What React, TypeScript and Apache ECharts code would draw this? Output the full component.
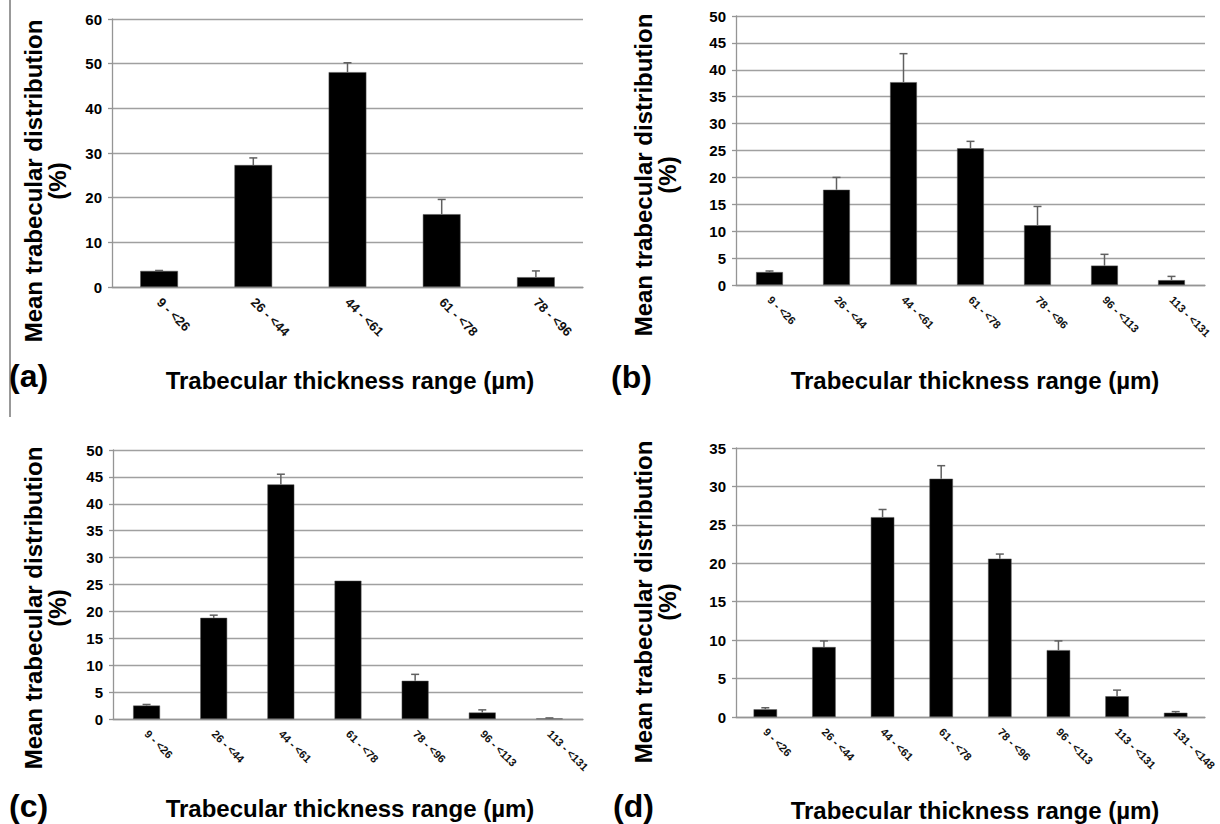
import React, { useEffect, useRef } from "react";
import * as echarts from "echarts";

const catsA = ["9 - <26", "26 - <44", "44 - <61", "61 - <78", "78 - <96"];
const catsB = ["9 - <26", "26 - <44", "44 - <61", "61 - <78", "78 - <96", "96 - <113", "113 - <131"];
const catsC = ["9 - <26", "26 - <44", "44 - <61", "61 - <78", "78 - <96", "96 - <113", "113 - <131"];
const catsD = ["9 - <26", "26 - <44", "44 - <61", "61 - <78", "78 - <96", "96 - <113", "113 - <131", "131 - <148"];

const valuesA = [3.6, 27.3, 48.1, 16.3, 2.2];
const errTopA = [3.7, 28.9, 50.2, 19.6, 3.6];
const valuesB = [2.4, 17.7, 37.7, 25.4, 11.1, 3.6, 0.9];
const errTopB = [2.6, 20.0, 43.0, 26.7, 14.6, 5.7, 1.6];
const valuesC = [2.5, 18.8, 43.6, 25.7, 7.1, 1.2, 0.1];
const errTopC = [2.7, 19.3, 45.5, 25.7, 8.3, 1.7, 0.2];
const valuesD = [1.0, 9.1, 26.0, 31.0, 20.6, 8.7, 2.7, 0.55];
const errTopD = [1.2, 9.9, 27.0, 32.7, 21.2, 9.9, 3.5, 0.7];

const yMax = [60, 50, 50, 35];
const yInterval = [10, 5, 5, 5];

const yTitle = "Mean trabecular distribution\n(%)";
const xTitle = "Trabecular thickness range (µm)";
const panelLabels = ["(a)", "(b)", "(c)", "(d)"];

const FONT = "Arial";

export default function App() {
  const ref = useRef<HTMLDivElement>(null);
  useEffect(() => {
    if (!ref.current) return;
    const chart = echarts.init(ref.current, undefined, { renderer: "svg" });
    const grids = [
      { left: 112, top: 19, width: 471, height: 268 },
      { left: 736, top: 16, width: 469, height: 269 },
      { left: 113, top: 450, width: 470, height: 269 },
      { left: 736, top: 448, width: 469, height: 269 },
    ];
    const cats = [catsA, catsB, catsC, catsD];
    const vals = [valuesA, valuesB, valuesC, valuesD];
    const errs = [errTopA, errTopB, errTopC, errTopD];
    const labelSizes = [13, 11, 11, 11];

    const xAxis = cats.map((c, i) => ({
      type: "category",
      gridIndex: i,
      data: c,
      axisLine: { lineStyle: { color: "#959595", width: 1.3 } },
      axisTick: { show: false },
      axisLabel: {
        rotate: -45,
        interval: 0,
        margin: 13,
        formatter: "{x|{value}}",
        rich: {
          x: {
            fontSize: labelSizes[i],
            fontFamily: FONT,
            fontWeight: "bold",
            color: "#111",
          },
        },
      },
    }));
    const yAxis = cats.map((_, i) => ({
      type: "value",
      gridIndex: i,
      min: 0,
      max: yMax[i],
      interval: yInterval[i],
      axisLine: { show: true, lineStyle: { color: "#959595", width: 1.3 } },
      axisTick: { show: true, length: 4, lineStyle: { color: "#959595", width: 1.3 } },
      splitLine: { lineStyle: { color: "#a0a0a0", width: 1.3 } },
      axisLabel: {
        margin: 10,
        formatter: "{y|{value}}",
        rich: {
          y: {
            fontSize: 15,
            fontWeight: "bold",
            fontFamily: FONT,
            color: "#000",
          },
        },
      },
    }));

    const series: any[] = [];
    cats.forEach((_, i) => {
      series.push({
        type: "bar",
        xAxisIndex: i,
        yAxisIndex: i,
        data: vals[i],
        barWidth: "40%",
        itemStyle: { color: "#000", borderColor: "#555", borderWidth: 0.5 },
        z: 2,
      });
      series.push({
        type: "custom",
        xAxisIndex: i,
        yAxisIndex: i,
        z: 3,
        data: vals[i].map((v, k) => [k, v, errs[i][k]]),
        renderItem: (params: any, api: any) => {
          const x = api.value(0);
          const v = api.value(1);
          const e = api.value(2);
          if (!(e > v)) return null;
          const p0 = api.coord([x, v]);
          const p1 = api.coord([x, e]);
          const cap = 4;
          const st = { stroke: "#606060", lineWidth: 1.5 };
          return {
            type: "group",
            children: [
              { type: "line", shape: { x1: p0[0], y1: p0[1], x2: p1[0], y2: p1[1] }, style: st },
              { type: "line", shape: { x1: p1[0] - cap, y1: p1[1], x2: p1[0] + cap, y2: p1[1] }, style: st },
            ],
          };
        },
      });
    });

    const yTitlePos = [
      [45, 181],
      [655, 175],
      [45, 608],
      [655, 602],
    ];
    const xTitlePos = [
      [350, 380],
      [975, 380],
      [350, 808],
      [975, 810],
    ];
    const panelPos = [
      [9, 376],
      [611, 377],
      [9, 806],
      [613, 806],
    ];
    const graphic: any[] = [
      {
        type: "line",
        shape: { x1: 10, y1: 0, x2: 10, y2: 417 },
        style: { stroke: "#555", lineWidth: 1.2 },
      },
    ];
    for (let i = 0; i < 4; i++) {
      graphic.push({
        type: "text",
        x: yTitlePos[i][0],
        y: yTitlePos[i][1],
        rotation: Math.PI / 2,
        style: {
          text: yTitle,
          font: `bold 24px ${FONT}`,
          fill: "#000",
          align: "center",
          verticalAlign: "middle",
          lineHeight: 24,
        },
      });
      graphic.push({
        type: "text",
        x: xTitlePos[i][0],
        y: xTitlePos[i][1],
        style: {
          text: xTitle,
          font: `bold 24px ${FONT}`,
          fill: "#000",
          align: "center",
          verticalAlign: "middle",
        },
      });
      graphic.push({
        type: "text",
        x: panelPos[i][0],
        y: panelPos[i][1],
        style: {
          text: panelLabels[i],
          font: `bold 32px ${FONT}`,
          fill: "#000",
          align: "left",
          verticalAlign: "middle",
        },
      });
    }

    chart.setOption({
      animation: false,
      backgroundColor: "#fff",
      grid: grids,
      xAxis,
      yAxis,
      series,
      graphic,
    });
    return () => chart.dispose();
  }, []);
  return (
    <div
      ref={ref}
      style={{ position: "fixed", left: 0, top: 0, width: 1220, height: 824, background: "#fff" }}
    />
  );
}
